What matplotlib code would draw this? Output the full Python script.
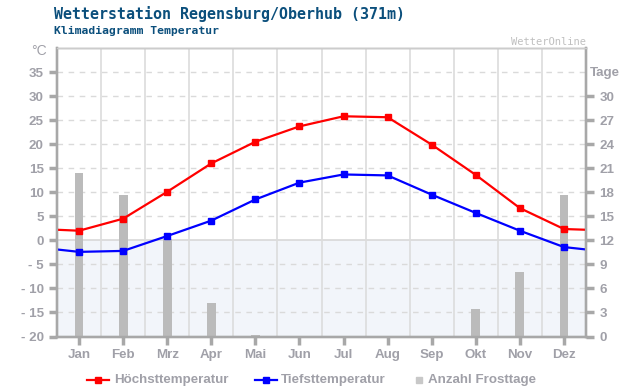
import matplotlib
matplotlib.use("Agg")
import matplotlib.pyplot as plt
import numpy as np

months = ["Jan", "Feb", "Mrz", "Apr", "Mai", "Jun", "Jul", "Aug", "Sep", "Okt", "Nov", "Dez"]
t_max = [2.0, 4.5, 10.1, 16.0, 20.5, 23.7, 25.8, 25.6, 19.9, 13.6, 6.7, 2.35]
t_min = [-2.4, -2.2, 0.9, 4.1, 8.5, 12.0, 13.7, 13.5, 9.5, 5.7, 2.0, -1.4]
frost_days = [20.4, 17.7, 12.2, 4.2, 0.2, 0, 0, 0, 0, 3.4, 8.0, 17.7]
# values where the curves leave the plot on both sides
t_max_edge = 2.2
t_min_edge = -1.9

temp_ticks = list(range(-20, 40, 5))
day_ticks = list(range(0, 33, 3))

GRAY = "#a8a8a8"
TXT = "#a0a0a8"
BLUE_TITLE = "#0b4f7c"

fig = plt.figure(figsize=(6.4, 3.9), dpi=100)
ax = fig.add_axes([57 / 640, 53.5 / 390, 529 / 640, 288.5 / 390])
x = np.arange(len(months))

ax.set_xlim(-0.5, 11.5)
ax.set_ylim(-20, 40)
ax.set_facecolor("white")
ax.axhspan(-20, 0, color="#f2f5fa", zorder=0)
for t in temp_ticks[1:]:
    if t == 0:
        ax.axhline(t, color="#d8d8d8", lw=1.2, zorder=1)
    else:
        ax.axhline(t, color="#dadada", lw=1.0, ls=(0, (4, 4)), zorder=1)
for xv in np.arange(0.5, 11.5, 1):
    ax.axvline(xv, color="#dcdcdc", lw=1.2, zorder=1)

ax.set_xticks(x)
ax.set_xticklabels(months)
ax.set_yticks(temp_ticks)
ax.set_yticklabels([str(t) if t >= 0 else "- " + str(-t) for t in temp_ticks])

# frost days on right axis
ax2 = ax.twinx()
ax2.set_ylim(0, 36)
ax2.set_yticks(day_ticks)
ax2.bar(x, frost_days, width=0.2, color="#bbbbbb", zorder=2)

# temperature curves on top
ax3 = ax.twinx()
ax3.set_ylim(-20, 40)
ax3.set_yticks([])
xs = np.concatenate([[-0.5], x, [11.5]])
ax3.plot(xs, [t_max_edge] + t_max + [t_max_edge], color="#ff0000", lw=1.6,
         marker="s", markersize=5, markevery=list(range(1, 13)))
ax3.plot(xs, [t_min_edge] + t_min + [t_min_edge], color="#0000ff", lw=1.6,
         marker="s", markersize=5, markevery=list(range(1, 13)))
ax3.set_xlim(-0.5, 11.5)

for a in (ax, ax2, ax3):
    for s in a.spines.values():
        s.set_color("#cccccc")
        s.set_linewidth(1.0)
    a.spines["left"].set_color(GRAY)
    a.spines["left"].set_linewidth(1.6)
    a.spines["right"].set_color(GRAY)
    a.spines["right"].set_linewidth(1.6)
    a.spines["bottom"].set_color(GRAY)
    a.spines["bottom"].set_linewidth(1.6)

font_kw = dict(family="Liberation Sans", weight="bold", size=9.6)
ax.tick_params(axis="both", colors=GRAY, width=2.5, length=6, labelcolor=TXT)
ax.tick_params(axis="x", length=6, pad=3)
for lab in ax.get_xticklabels() + ax.get_yticklabels():
    lab.set_fontproperties(matplotlib.font_manager.FontProperties(**font_kw))
ax2.tick_params(axis="y", colors=GRAY, width=2.5, length=6, labelcolor=TXT)
for lab in ax2.get_yticklabels():
    lab.set_fontproperties(matplotlib.font_manager.FontProperties(**font_kw))
ax3.tick_params(axis="both", length=0, labelbottom=False, labelright=False)

fig.text(54 / 640, 1 - 14 / 390, "Wetterstation Regensburg/Oberhub (371m)",
         family="DejaVu Sans Mono", weight="bold", size=10.8, color=BLUE_TITLE, va="center")
fig.text(54 / 640, 1 - 31 / 390, "Klimadiagramm Temperatur",
         family="DejaVu Sans Mono", weight="bold", size=8.2, color=BLUE_TITLE, va="center")
fig.text(586 / 640, 1 - 42 / 390, "WetterOnline", family="DejaVu Sans Mono",
         size=7.5, color="#c0c0c0", ha="right", va="center")
fig.text(47 / 640, 1 - 51 / 390, "°C", color=TXT, ha="right", va="center",
         family="Liberation Sans", size=10)
fig.text(590 / 640, 1 - 73 / 390, "Tage", color=TXT, ha="left", va="center", **font_kw)

# legend
ly = 1 - 380 / 390
fig.lines.append(plt.Line2D([87 / 640, 109 / 640], [ly, ly], color="#ff0000", lw=1.6,
                            transform=fig.transFigure))
fig.lines.append(plt.Line2D([98 / 640], [ly], color="#ff0000", marker="s", markersize=5,
                            transform=fig.transFigure))
fig.text(114 / 640, ly, "Höchsttemperatur", color=TXT, va="center", **font_kw)
fig.lines.append(plt.Line2D([255 / 640, 277 / 640], [ly, ly], color="#0000ff", lw=1.6,
                            transform=fig.transFigure))
fig.lines.append(plt.Line2D([266 / 640], [ly], color="#0000ff", marker="s", markersize=5,
                            transform=fig.transFigure))
fig.text(281 / 640, ly, "Tiefsttemperatur", color=TXT, va="center", **font_kw)
fig.lines.append(plt.Line2D([419 / 640], [ly], color="#c8c8c8", marker="s", markersize=5,
                            lw=0, transform=fig.transFigure))
fig.text(428 / 640, ly, "Anzahl Frosttage", color=TXT, va="center", **font_kw)

fig.savefig("out.png", dpi=100)
